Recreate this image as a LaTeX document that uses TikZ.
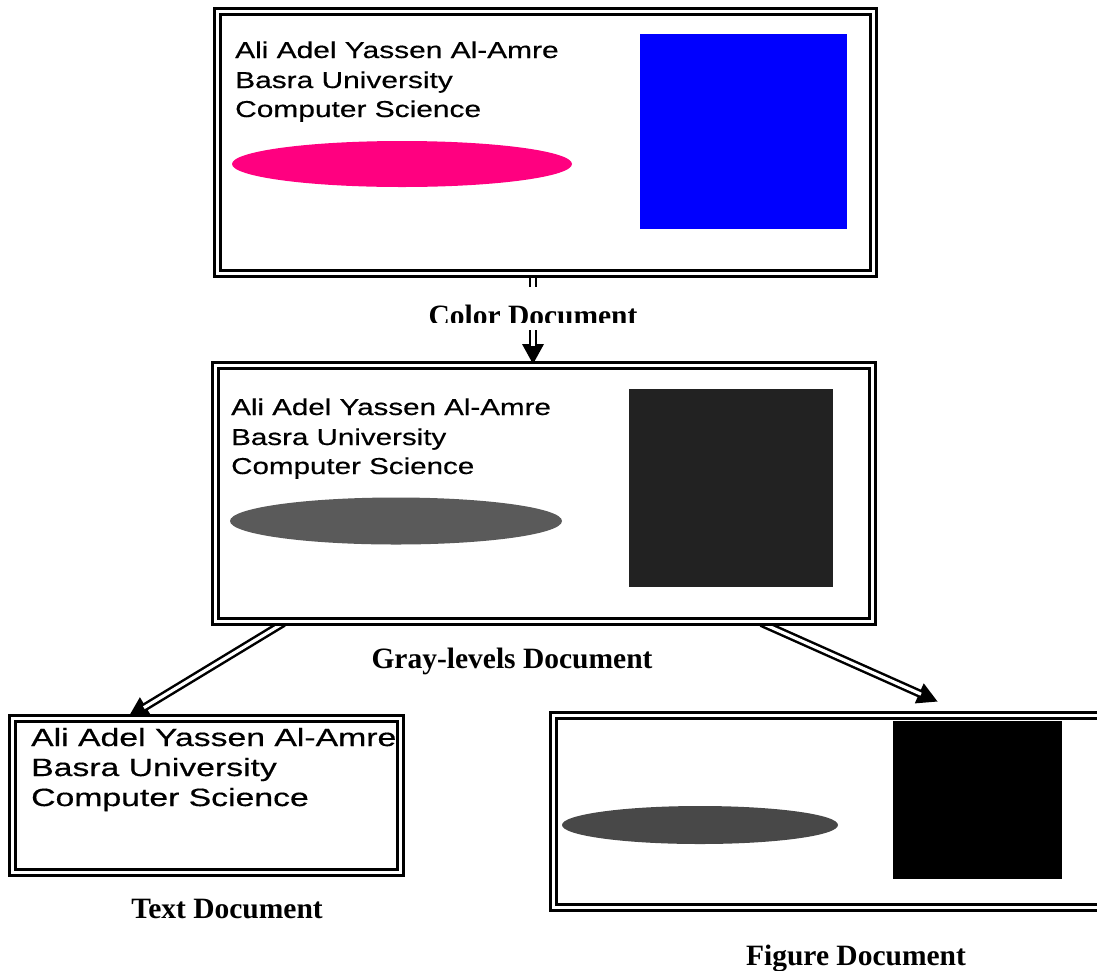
\documentclass[tikz,border=0pt]{standalone}
\usepackage{fontspec}
\usepackage{graphicx}
\setmainfont{Liberation Serif}
\newfontfamily\arialf[FakeBold=0.4]{Liberation Sans}
\usetikzlibrary{calc}
\pgfdeclarelayer{bottom}
\pgfdeclarelayer{links}
\pgfsetlayers{bottom,links,main}
\definecolor{pinkc}{RGB}{255,0,128}
\definecolor{bluec}{RGB}{0,0,255}
\definecolor{grayA}{RGB}{90,90,90}
\definecolor{grayB}{RGB}{34,34,34}
\definecolor{grayC}{RGB}{72,72,72}
\newcommand\xstretch[2]{\scalebox{#1}[1]{#2}}
\newcommand\dblarr[2]{%
  \path (#2) coordinate (Ttip) ($(#2)!20pt!(#1)$) coordinate (Tbase);
  \fill (Ttip) -- ($(Tbase)!11pt!90:(Ttip)$) -- ($(Tbase)!11pt!-90:(Ttip)$) -- cycle;
  \draw[dblline] (#1) -- ($(Tbase)!2pt!(Ttip)$);}
\begin{document}
\begin{tikzpicture}[x=1pt,y=-1pt,
  docbox/.style={draw, double, double distance=3pt, line width=3pt, inner sep=0pt, fill=none},
  dblline/.style={draw, double, double distance=3.2pt, line width=2.5pt},
  txtA/.style={anchor=base west, inner sep=0pt, font=\arialf\fontsize{23}{27}\selectfont},
  txtB/.style={anchor=base west, inner sep=0pt, font=\arialf\fontsize{25}{29}\selectfont},
  lbl/.style={anchor=base, inner sep=0pt, font=\bfseries\fontsize{29.5}{34}\selectfont}]
\useasboundingbox (0,0) rectangle (1097,970);
\begin{pgfonlayer}{bottom}
  \fill[white] (0,0) rectangle (1097,970);
\end{pgfonlayer}

% boxes
\node[docbox, minimum width=656pt, minimum height=262pt] (top) at (545.5,142.5) {};
\node[docbox, minimum width=657pt, minimum height=256pt] (mid) at (544,493.5) {};
\node[docbox, minimum width=388pt, minimum height=154pt] (tb) at (206.5,795.5) {};
\begin{scope}
  \clip (0,0) rectangle (1097,970);
  \node[docbox, minimum width=564pt, minimum height=192pt] (fb) at (835.5,811.5) {};
\end{scope}

% colour document contents
\node[txtA] (a1) at (235,58) {\xstretch{1.3}{Ali Adel Yassen Al-Amre}};
\node[txtA] (a2) at (235,88) {\xstretch{1.3}{Basra University}};
\node[txtA] (a3) at (235,117) {\xstretch{1.3}{Computer Science}};
\fill[pinkc] (402,164) ellipse [x radius=170, y radius=23];
\fill[bluec] (640,34) rectangle (847,229);

% gray-levels document contents
\node[txtA] (b1) at (231,415) {\xstretch{1.285}{Ali Adel Yassen Al-Amre}};
\node[txtA] (b2) at (231,445) {\xstretch{1.285}{Basra University}};
\node[txtA] (b3) at (231,474) {\xstretch{1.285}{Computer Science}};
\fill[grayA] (396,521) ellipse [x radius=166, y radius=23.5];
\fill[grayB] (629,389) rectangle (833,587);

% text document contents
\node[txtB] (c1) at (31,746) {\xstretch{1.35}{Ali Adel Yassen Al-Amre}};
\node[txtB] (c2) at (31,776) {\xstretch{1.35}{Basra University}};
\node[txtB] (c3) at (31,806) {\xstretch{1.35}{Computer Science}};

% figure document contents
\fill[grayC] (700,825) ellipse [x radius=138, y radius=19];
\fill[black] (893,721) rectangle (1062,879);

% labels
\node[minimum width=220pt, minimum height=43pt, inner sep=0pt] (lc) at (533,308.5) {};
\begin{scope}
  \clip (400,287) rectangle (670,322);
  \node[lbl] (lctext) at (533,325) {Color Document};
\end{scope}
\node[lbl] (lg) at (512,668) {Gray-levels Document};
\node[lbl] (lt) at (227,918) {Text Document};
\node[lbl] (lf) at (856,965) {Figure Document};

% connectors
\begin{pgfonlayer}{links}
  \draw[dblline] (lc.north |- top.south) -- (lc.north);
  \coordinate (m1) at (lc.south |- mid.north);
  \dblarr{lc.south}{m1}
  \coordinate (s2) at ([xshift=69.5pt]mid.south west);
  \coordinate (e2) at ([xshift=117.5pt]tb.north west);
  \dblarr{s2}{e2}
  \coordinate (s3) at ([xshift=-112.5pt]mid.south east);
  \coordinate (e3) at ([xshift=385.5pt,yshift=12.5pt]fb.north west);
  \dblarr{s3}{e3}
\end{pgfonlayer}
\end{tikzpicture}
\end{document}
